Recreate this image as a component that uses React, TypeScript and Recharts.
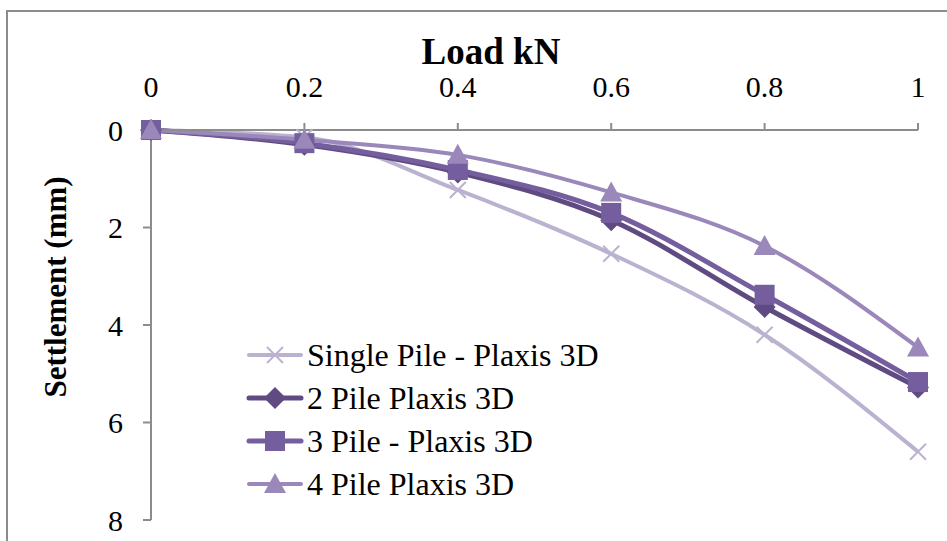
import React from 'react';
import { LineChart, Line, XAxis, YAxis, Legend, Label } from 'recharts';

const loads = [0, 0.2, 0.4, 0.6, 0.8, 1];
const singlePile = [0, 0.15, 1.23, 2.54, 4.2, 6.6];
const pile2 = [0, 0.3, 0.87, 1.85, 3.63, 5.28];
const pile3 = [0, 0.27, 0.82, 1.7, 3.38, 5.17];
const pile4 = [0, 0.2, 0.51, 1.28, 2.38, 4.46];

const seriesKeys = ['s1', 's2', 's3', 's4'];
const seriesNames = ['Single Pile - Plaxis 3D', '2 Pile Plaxis 3D', '3 Pile - Plaxis 3D', '4 Pile Plaxis 3D'];
const seriesColors = ['#BBB2D0', '#5F4B82', '#755E9D', '#9B88BA'];
const seriesShapes = ['cross', 'diamond', 'square', 'triangle'];
const seriesWidths = [4, 5, 5, 4];

const xTicks = [0, 0.2, 0.4, 0.6, 0.8, 1];
const yTicks = [0, 2, 4, 6, 8];

const data = loads.map((x, i) => ({
  load: x,
  s1: singlePile[i],
  s2: pile2[i],
  s3: pile3[i],
  s4: pile4[i],
}));

const FONT = '"Liberation Serif", "Times New Roman", serif';

function Marker({ shape, cx, cy, color }: any) {
  if (cx == null || cy == null) return null;
  switch (shape) {
    case 'cross': {
      const r = 8;
      return (
        <g stroke={color} strokeWidth={2}>
          <line x1={cx - r} y1={cy - r} x2={cx + r} y2={cy + r} />
          <line x1={cx - r} y1={cy + r} x2={cx + r} y2={cy - r} />
        </g>
      );
    }
    case 'diamond': {
      const r = 11;
      return <polygon points={`${cx},${cy - r} ${cx + r},${cy} ${cx},${cy + r} ${cx - r},${cy}`} fill={color} />;
    }
    case 'square': {
      const r = 10;
      return <rect x={cx - r} y={cy - r} width={2 * r} height={2 * r} fill={color} />;
    }
    case 'triangle': {
      const r = 11;
      return <polygon points={`${cx},${cy - r} ${cx + r},${cy + 9} ${cx - r},${cy + 9}`} fill={color} />;
    }
  }
  return null;
}

function renderLegend(props: any) {
  const payload = (props.payload || []).slice().sort(
    (a: any, b: any) => seriesKeys.indexOf(a.dataKey) - seriesKeys.indexOf(b.dataKey)
  );
  return (
    <div style={{ fontFamily: FONT, fontSize: 32, color: '#000' }}>
      {payload.map((p: any) => {
        const i = seriesKeys.indexOf(p.dataKey);
        return (
          <div key={p.dataKey} style={{ display: 'flex', alignItems: 'center', height: 43 }}>
            <svg width={58} height={30} style={{ marginRight: 3 }}>
              <line x1={3} y1={15} x2={55} y2={15} stroke={seriesColors[i]} strokeWidth={seriesWidths[i]} strokeLinecap="round" />
              <Marker shape={seriesShapes[i]} cx={29} cy={15} color={seriesColors[i]} />
            </svg>
            <span style={{ lineHeight: '30px' }}>{p.value}</span>
          </div>
        );
      })}
    </div>
  );
}

export default function App() {
  return (
    <div style={{ position: 'absolute', left: 0, top: 0, width: 947, height: 541, overflow: 'hidden', background: '#fff' }}>
      <div
        style={{
          position: 'absolute',
          left: 6,
          top: 10,
          width: 1000,
          height: 600,
          borderLeft: '2px solid #8c8c8c',
          borderTop: '2px solid #8c8c8c',
        }}
      />
      <div style={{ position: 'absolute', left: 0, top: 0 }}>
        <LineChart width={947} height={541} data={data} margin={{ top: 0, right: 29, bottom: 21, left: 0 }}>
          <XAxis
            dataKey="load"
            type="number"
            orientation="top"
            domain={[0, 1]}
            ticks={xTicks}
            height={130}
            tickSize={7}
            tickMargin={26}
            stroke="#8c8c8c"
            strokeWidth={2}
            tick={{ fontSize: 30, fill: '#000', fontFamily: FONT }}
            tickFormatter={(v: number) => String(v)}
          >
            <Label
              content={() => (
                <text x={491} y={64} textAnchor="middle" fontFamily={FONT} fontWeight="bold" fontSize={37} fill="#000">
                  Load kN
                </text>
              )}
            />
          </XAxis>
          <YAxis
            type="number"
            reversed
            domain={[0, 8]}
            ticks={yTicks}
            width={151}
            tickSize={8}
            tickMargin={20}
            stroke="#8c8c8c"
            strokeWidth={2}
            tick={{ fontSize: 30, fill: '#000', fontFamily: FONT }}
          >
            <Label
              content={() => (
                <text
                  x={0}
                  y={0}
                  transform="translate(66, 287) rotate(-90)"
                  textAnchor="middle"
                  fontFamily={FONT}
                  fontWeight="bold"
                  fontSize={31}
                  fill="#000"
                >
                  Settlement (mm)
                </text>
              )}
            />
          </YAxis>
          <Legend
            layout="horizontal"
            align="center"
            verticalAlign="middle"
            content={renderLegend}
            wrapperStyle={{ left: 246, top: 333, width: 420, height: 180 }}
          />
          {seriesKeys.map((k, i) => (
            <Line
              key={k}
              dataKey={k}
              name={seriesNames[i]}
              type="monotone"
              stroke={seriesColors[i]}
              strokeWidth={seriesWidths[i]}
              isAnimationActive={false}
              activeDot={false}
              dot={(p: any) => (
                <Marker key={`${k}-${p.index}`} shape={seriesShapes[i]} cx={p.cx} cy={p.cy} color={seriesColors[i]} />
              )}
            />
          ))}
        </LineChart>
      </div>
    </div>
  );
}
